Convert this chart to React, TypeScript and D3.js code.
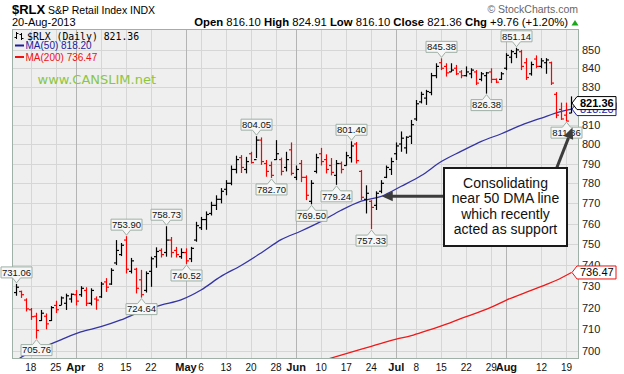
import * as d3 from 'd3';
import React from 'react';

const width = 624;
const height = 374;
const plot = {left: 12, right: 578, top: 29, bottom: 358};
const font = 'Liberation Sans, Arial, sans-serif';

const startDate = '2013-03-13';
const holidays = ['2013-03-29', '2013-05-27', '2013-07-04'];

// daily OHLC (first bar 13-Mar-2013, last 20-Aug-2013)
const opens = [
  727, 727.5, 723.5, 719, 716, 714, 716, 714, 721, 721, 722, 724, 726, 726, 728, 722, 724, 725, 732, 731,
  741, 745, 752, 737, 738, 733, 728, 737, 744, 747, 746, 752, 747, 744, 746, 743, 752, 758, 762, 765,
  769, 772, 777, 780, 787, 793, 787, 795, 792, 802, 790, 789, 792, 792, 788, 797, 783, 790, 783, 771,
  786, 795, 792, 789, 784, 790, 789, 793, 800, 786, 772, 771, 769, 776, 783, 787, 795, 800, 798, 804,
  813, 822, 824, 827, 836, 843, 841, 838, 840, 838, 836, 837, 838, 834, 836, 838, 834, 834, 840, 846,
  848, 849, 843, 837, 845, 841, 843, 843, 826, 818, 815, 816.1,
];
const highs = [
  731.06, 727.9, 724.3, 719.8, 717.6, 718.9, 717.3, 720.7, 723.2, 725.2, 726.5, 726.6, 728.2, 730, 729.5, 729, 725.2, 732, 733.8, 738.5,
  752, 750.6, 753.9, 743.4, 738.7, 737.7, 737, 744, 748.5, 748, 758.73, 753.5, 748.7, 748, 748, 748.7, 760.9, 763.3, 766, 770.8,
  774, 777.6, 781.6, 789, 794, 794.3, 793.4, 796, 804.05, 803.4, 791.8, 791, 802, 793, 796, 800.8, 789, 791.8, 784, 781.6,
  795, 798, 794.7, 792.8, 791.8, 791, 796, 801.4, 801, 786.7, 779, 771.6, 776, 781.6, 789, 793, 800.8, 806.5, 804, 812.5,
  823, 827.4, 828.4, 837.5, 842.7, 845.38, 842.7, 842.7, 841.8, 839, 841, 840, 839, 838, 838, 840, 834.5, 838, 848.2, 850,
  851.14, 850, 845.5, 843.6, 847, 845.5, 845.5, 843.6, 827.2, 821.6, 821.6, 824.91,
];
const lows = [
  725.5, 724.5, 718.2, 714.3, 705.76, 713.8, 710, 713.8, 717.5, 721.2, 718.9, 722.3, 721, 725, 720.7, 721, 719, 724.5, 727.3, 730.6,
  740, 744.3, 736, 736, 726.6, 724.64, 727, 729.7, 738.7, 743.6, 744, 743.6, 743.6, 743, 740.52, 741.4, 751.2, 756.9, 757, 764,
  766.7, 770, 774, 779, 785, 785.2, 785, 790, 792.8, 789.3, 783.3, 782.7, 791.8, 784, 786, 784, 781.6, 780.6, 771.6, 769.5,
  785, 789, 785, 784, 779.24, 785, 789, 790.5, 790, 771.6, 765, 757.33, 766.7, 775, 782.6, 784.2, 791.8, 796, 795, 800,
  812, 821.2, 820.4, 825.5, 834.6, 839, 835.5, 838, 836.3, 834.6, 835.5, 834.6, 831, 833, 826.38, 832, 832, 833.7, 839, 842.7,
  845.5, 839, 833.7, 836, 840, 840, 837, 831, 813.4, 812.5, 811.86, 816.1,
];
const closes = [
  729.5, 726, 719.4, 715.8, 709.5, 717.4, 712.5, 720, 719, 724.5, 725.5, 726.2, 723, 729, 722, 728, 723.5, 731, 729.5, 737.5,
  747, 749.5, 738, 742, 729, 726, 736, 743, 746.5, 745, 752, 746, 745, 746, 742, 748, 759, 762, 764.5, 769,
  772, 776, 780, 787, 792, 788, 791, 790.5, 802, 791, 786, 784, 795, 786, 792, 785, 787, 783, 774, 780,
  793, 791, 787, 785.5, 790, 787, 794, 799, 791.5, 773, 775, 768, 775, 780, 788, 791, 799, 803, 803.5, 810,
  821, 826, 827.5, 836, 841, 840, 837.5, 839, 837, 836, 838, 839, 832, 837, 837.5, 834, 832.5, 837, 847, 849,
  850, 841, 835, 842, 841, 844, 844.5, 832, 815, 813, 811.9, 821.36,
];

// moving averages, read at a few bars (bar number, value)
const ma50Bars = [0, 1, 5, 9, 13, 17, 21, 25, 29, 33, 37, 41, 45, 49, 53, 57, 61, 65, 69, 73, 77, 81, 85, 89, 93, 97, 101, 105, 109, 111];
const ma50Vals = [695.5, 697.2, 701.4, 705.2, 708.8, 711.2, 714.3, 718.2, 721.2, 723.6, 728.2, 734.6, 739.8, 745.8, 752.2, 756.4, 761.1, 766.6, 771.1, 773.5, 778.5, 783.9, 791, 796.3, 801.4, 805.3, 809.8, 813.5, 817, 818.2];
const ma200Bars = [62, 66, 71, 76, 79, 82, 86, 89, 91, 95, 98, 102, 106, 108, 111];
const ma200Vals = [696.3, 699, 702.2, 705.5, 707.1, 709.3, 712.4, 715, 716.6, 720.2, 723.5, 727.2, 730.8, 732.8, 736.47];

const priceTicks = [700, 710, 720, 730, 740, 750, 760, 770, 780, 790, 800, 810, 820, 830, 840, 850];
const dateTicks = [
  '2013-03-18', '2013-03-25', '2013-04-01', '2013-04-08', '2013-04-15', '2013-04-22', '2013-05-01', '2013-05-06',
  '2013-05-13', '2013-05-20', '2013-05-28', '2013-06-03', '2013-06-10', '2013-06-17', '2013-06-24', '2013-07-01',
  '2013-07-08', '2013-07-15', '2013-07-22', '2013-07-29', '2013-08-01', '2013-08-12', '2013-08-19',
];

// high / low call-outs
const calloutBars = [0, 4, 22, 25, 30, 34, 48, 51, 59, 64, 67, 71, 85, 94, 100, 110];
const calloutVals = [731.06, 705.76, 753.9, 724.64, 758.73, 740.52, 804.05, 782.7, 769.5, 779.24, 801.4, 757.33, 845.38, 826.38, 851.14, 811.86];
const calloutAbove = [true, false, true, false, true, false, true, false, false, false, true, false, true, false, true, false];

const noteLines = ['Consolidating', 'near 50 DMA line', 'which recently', 'acted as support'];

const fmtDay = d3.utcFormat('%Y-%m-%d');

function tradingDays(start: string, n: number): Date[] {
  const out: Date[] = [];
  let d = new Date(start + 'T00:00:00Z');
  while (out.length < n) {
    const wd = d.getUTCDay();
    if (wd !== 0 && wd !== 6 && !holidays.includes(fmtDay(d))) out.push(d);
    d = d3.utcDay.offset(d, 1);
  }
  return out;
}

function Callout({x, y, text, above}: {x: number; y: number; text: string; above: boolean}) {
  const w = 31, h = 11, p = 5, gap = 1;
  let path;
  let by;
  if (above) {
    by = y - gap - p - h;
    path = `M${x - w / 2},${by}H${x + w / 2}V${by + h}H${x + 4}L${x},${by + h + p}L${x - 4},${by + h}H${x - w / 2}Z`;
  } else {
    by = y + gap + p;
    path = `M${x - w / 2},${by}H${x - 4}L${x},${by - p}L${x + 4},${by}H${x + w / 2}V${by + h}H${x - w / 2}Z`;
  }
  return (
    <g>
      <path d={path} fill="#f6f7f6" stroke="#9fb0a6" strokeWidth={1} />
      <text x={x} y={by + h - 2.2} textAnchor="middle" fontSize={9.5} fontFamily={font} fill="#111">
        {text}
      </text>
    </g>
  );
}

function Tag({y, text, stroke, color, bold}: {y: number; text: string; stroke: string; color: string; bold?: boolean}) {
  const x0 = 572, x1 = 577, x2 = 616, h = 13;
  return (
    <g>
      <path d={`M${x0},${y}L${x1},${y - h / 2}H${x2}V${y + h / 2}H${x1}Z`} fill="#fff" stroke={stroke} strokeWidth={1} />
      <text x={x1 + 3} y={y + 4} fontSize={11} fontWeight={bold ? 'bold' : 'normal'} fontFamily={font} fill={color}>
        {text}
      </text>
    </g>
  );
}

export default function App() {
  const days = tradingDays(startDate, closes.length);
  const x = d3.scaleLinear().domain([-0.75, 112.3]).range([plot.left, plot.right]);
  const y = d3.scaleLog().domain([697, 861.5]).range([plot.bottom, plot.top]);

  const line = d3
    .line<[number, number]>()
    .x(d => x(d[0]))
    .y(d => y(d[1]))
    .curve(d3.curveMonotoneX);
  const ma50 = line(ma50Bars.map((b, i) => [b, ma50Vals[i]]));
  const ma200 = line(ma200Bars.map((b, i) => [b, ma200Vals[i]]));

  const dayIndex = (s: string) => days.findIndex(d => fmtDay(d) === s);
  const ticks = dateTicks.map(s => {
    const i = dayIndex(s);
    const d = days[i];
    const isMonth = i > 0 && days[i - 1].getUTCMonth() !== d.getUTCMonth();
    return {i, isMonth, label: isMonth ? d3.utcFormat('%b')(d) : d3.utcFormat('%-d')(d)};
  });

  const last = closes.length - 1;
  const chg = closes[last] - 811.6;

  // note box and its arrows
  const box = {x: 444, y: 168, w: 123, h: 78};
  const tip1: [number, number] = [x(73.1), y(773.5)];
  const tip2: [number, number] = [x(111.2), y(808.5)];
  const from2: [number, number] = [556.7, box.y];
  const ang = Math.atan2(tip2[1] - from2[1], tip2[0] - from2[0]);
  const hl = 11, hw = 5;
  const base2: [number, number] = [tip2[0] - hl * Math.cos(ang), tip2[1] - hl * Math.sin(ang)];
  const px = -Math.sin(ang) * hw, py = Math.cos(ang) * hw;

  return (
    <>
      <style>{`body{margin:0}`}</style>
      <svg width={width} height={height} style={{display: 'block', background: '#fff'}}>
        <defs>
          <clipPath id="plotClip">
            <rect x={plot.left} y={plot.top} width={plot.right - plot.left} height={plot.bottom - plot.top} />
          </clipPath>
        </defs>

        {/* header */}
        <text x={12} y={13.5} fontFamily={font} fontSize={13} fontWeight="bold" fill="#000">$RLX</text>
        <text x={48} y={13.5} fontFamily={font} fontSize={10.5} fill="#000">S&amp;P Retail Index</text>
        <text x={130} y={13.5} fontFamily={font} fontSize={10.5} fill="#000">INDX</text>
        <text x={12} y={26} fontFamily={font} fontSize={11} fill="#000">20-Aug-2013</text>
        <text x={578} y={12.5} textAnchor="end" fontFamily={font} fontSize={10.5} fill="#666">© StockCharts.com</text>
        <text x={568} y={26} textAnchor="end" fontFamily={font} fontSize={11.3} fill="#000">
          <tspan fontWeight="bold">Open</tspan> {opens[last].toFixed(2)} <tspan fontWeight="bold">High</tspan>{' '}
          {highs[last].toFixed(2)} <tspan fontWeight="bold">Low</tspan> {lows[last].toFixed(2)}{' '}
          <tspan fontWeight="bold">Close</tspan> {closes[last].toFixed(2)} <tspan fontWeight="bold">Chg</tspan> +
          {chg.toFixed(2)} (+{((chg / 811.6) * 100).toFixed(2)}%)
        </text>
        <path d="M571.5,25.5L575,20L578.5,25.5Z" fill="#1aa81a" />

        {/* plot background and grid */}
        <rect x={plot.left} y={plot.top} width={plot.right - plot.left} height={plot.bottom - plot.top} fill="#efefef" />
        {priceTicks.map(t => (
          <line key={t} x1={plot.left} x2={plot.right} y1={Math.round(y(t)) + 0.5} y2={Math.round(y(t)) + 0.5} stroke="#d6d6d6" />
        ))}
        {ticks.map(t => (
          <line
            key={t.i}
            x1={Math.round(x(t.i)) + 0.5}
            x2={Math.round(x(t.i)) + 0.5}
            y1={plot.top}
            y2={plot.bottom}
            stroke={t.isMonth ? '#b4b4b4' : '#d6d6d6'}
          />
        ))}

        {/* legend */}
        <g stroke="#000" strokeWidth={1}>
          <line x1={16.5} x2={16.5} y1={32} y2={39} />
          <line x1={14.5} x2={16.5} y1={37.5} y2={37.5} />
          <line x1={16.5} x2={18.5} y1={33.5} y2={33.5} />
          <line x1={21.5} x2={21.5} y1={33} y2={40} />
          <line x1={19.5} x2={21.5} y1={34.5} y2={34.5} />
          <line x1={21.5} x2={23.5} y1={38.5} y2={38.5} />
        </g>
        <text x={27} y={39.5} fontFamily="DejaVu Sans Mono, monospace" fontSize={9.8} fill="#000">
          $RLX (Daily) {closes[last].toFixed(2)}
        </text>
        <line x1={15} x2={24} y1={45.5} y2={45.5} stroke="#1c1c9c" strokeWidth={2} />
        <text x={25.5} y={49.3} fontFamily={font} fontSize={10} fill="#1c1c9c">
          MA(50) {ma50Vals[ma50Vals.length - 1].toFixed(2)}
        </text>
        <line x1={15} x2={24} y1={57} y2={57} stroke="#f01010" strokeWidth={2} />
        <text x={25.5} y={60.8} fontFamily={font} fontSize={10} fill="#f01010">
          MA(200) {ma200Vals[ma200Vals.length - 1].toFixed(2)}
        </text>
        <text x={37.5} y={84} fontFamily="DejaVu Sans, sans-serif" fontSize={13} fill="#8cc63f">www.CANSLIM.net</text>

        {/* moving averages */}
        <g clipPath="url(#plotClip)" fill="none" strokeWidth={1.3}>
          <path d={ma200 ?? ''} stroke="#f01818" />
          <path d={ma50 ?? ''} stroke="#3434a4" />
        </g>

        {/* OHLC bars */}
        {closes.map((c, i) => {
          const bx = Math.round(x(i)) + 0.5;
          const up = i === 0 || c >= closes[i - 1];
          return (
            <g key={i} stroke={up ? '#000' : '#f00'} strokeWidth={1.2}>
              <line x1={bx} x2={bx} y1={y(highs[i])} y2={y(lows[i])} />
              <line x1={bx - 2.5} x2={bx} y1={y(opens[i])} y2={y(opens[i])} />
              <line x1={bx} x2={bx + 2.5} y1={y(c)} y2={y(c)} />
            </g>
          );
        })}

        <rect x={plot.left + 0.5} y={plot.top + 0.5} width={plot.right - plot.left} height={plot.bottom - plot.top} fill="none" stroke="#9fb0a6" />

        {/* call-outs */}
        {calloutBars.map((b, k) => (
          <Callout key={k} x={Math.round(x(b)) + 0.5} y={y(calloutVals[k])} text={calloutVals[k].toFixed(2)} above={calloutAbove[k]} />
        ))}

        {/* axes */}
        {priceTicks.map(t => (
          <text key={t} x={582} y={y(t) + 4} fontFamily={font} fontSize={11} fill="#222">
            {t}
          </text>
        ))}
        {ticks.map(t => (
          <text
            key={t.i}
            x={x(t.i)}
            y={370.5}
            textAnchor="middle"
            fontFamily={font}
            fontSize={t.isMonth ? 11 : 10}
            fontWeight={t.isMonth ? 'bold' : 'normal'}
            fill="#111"
          >
            {t.label}
          </text>
        ))}

        <Tag y={y(ma50Vals[ma50Vals.length - 1])} text={ma50Vals[ma50Vals.length - 1].toFixed(2)} stroke="#1c1c9c" color="#1c1c9c" />
        <Tag y={y(closes[last])} text={closes[last].toFixed(2)} stroke="#000" color="#000" bold />
        <Tag y={y(ma200Vals[ma200Vals.length - 1])} text={ma200Vals[ma200Vals.length - 1].toFixed(2)} stroke="#f01010" color="#000" />

        {/* note */}
        <g fill="#3c3c3c" stroke="#3c3c3c">
          <line x1={box.x} x2={tip1[0] + 10} y1={tip1[1]} y2={tip1[1]} strokeWidth={3} />
          <path d={`M${tip1[0]},${tip1[1]}L${tip1[0] + 11},${tip1[1] - 5}L${tip1[0] + 11},${tip1[1] + 5}Z`} stroke="none" />
          <line x1={from2[0]} y1={from2[1]} x2={base2[0]} y2={base2[1]} strokeWidth={3} />
          <path
            d={`M${tip2[0]},${tip2[1]}L${base2[0] + px},${base2[1] + py}L${base2[0] - px},${base2[1] - py}Z`}
            stroke="none"
          />
        </g>
        <rect x={box.x} y={box.y} width={box.w} height={box.h} fill="#fff" stroke="#1a1a1a" strokeWidth={2} />
        {noteLines.map((s, k) => (
          <text key={k} x={box.x + box.w / 2} y={187.5 + k * 15.5} textAnchor="middle" fontFamily={font} fontSize={14} fill="#111">
            {s}
          </text>
        ))}
      </svg>
    </>
  );
}
